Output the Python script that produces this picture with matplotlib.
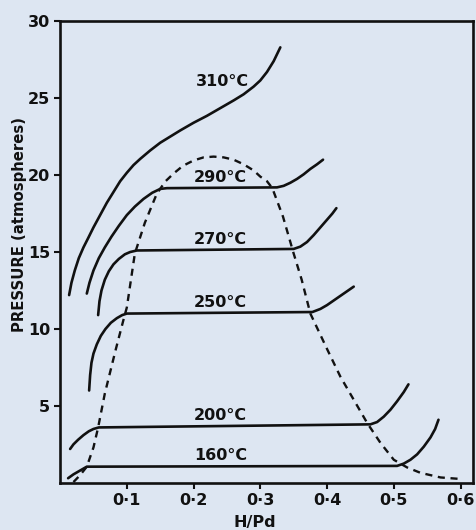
import matplotlib
matplotlib.use("Agg")
import matplotlib.pyplot as plt

# ---- data ----
x310 = [0.0135, 0.017, 0.022, 0.028, 0.035, 0.042, 0.050, 0.060, 0.070, 0.080, 0.090, 0.100, 0.110, 0.120,
        0.135, 0.150, 0.165, 0.180, 0.200, 0.220, 0.240, 0.260, 0.275, 0.290, 0.300, 0.310, 0.320, 0.330]
y310 = [12.2, 13.0, 13.8, 14.6, 15.3, 15.9, 16.6, 17.4, 18.2, 18.9, 19.6, 20.15, 20.65, 21.05,
        21.6, 22.1, 22.5, 22.9, 23.4, 23.85, 24.35, 24.85, 25.25, 25.75, 26.15, 26.7, 27.4, 28.3]

x290 = [0.040, 0.044, 0.050, 0.058, 0.067, 0.077, 0.088, 0.100, 0.112, 0.125, 0.138, 0.150, 0.160,
        0.325, 0.335, 0.345, 0.355, 0.365, 0.375, 0.385, 0.394]
y290 = [12.3, 13.0, 13.8, 14.6, 15.3, 16.0, 16.7, 17.4, 17.95, 18.45, 18.85, 19.1, 19.15,
        19.2, 19.3, 19.5, 19.75, 20.05, 20.4, 20.7, 21.0]

x270 = [0.057, 0.059, 0.062, 0.067, 0.073, 0.080, 0.088, 0.097, 0.105, 0.115,
        0.350, 0.360, 0.370, 0.380, 0.390, 0.400, 0.408, 0.414]
y270 = [10.9, 11.8, 12.5, 13.2, 13.75, 14.2, 14.55, 14.85, 15.0, 15.1,
        15.2, 15.35, 15.65, 16.1, 16.6, 17.1, 17.5, 17.85]

x250 = [0.0435, 0.045, 0.047, 0.050, 0.055, 0.061, 0.068, 0.076, 0.085, 0.093, 0.100,
        0.378, 0.390, 0.400, 0.410, 0.420, 0.430, 0.440]
y250 = [6.0, 7.0, 7.8, 8.4, 9.0, 9.55, 10.0, 10.4, 10.7, 10.9, 11.0,
        11.1, 11.3, 11.55, 11.85, 12.15, 12.45, 12.75]

x200 = [0.015, 0.020, 0.027, 0.035, 0.043, 0.050, 0.058,
        0.465, 0.475, 0.485, 0.495, 0.505, 0.515, 0.522]
y200 = [2.2, 2.5, 2.8, 3.1, 3.35, 3.5, 3.6,
        3.8, 3.95, 4.3, 4.75, 5.3, 5.9, 6.4]

x160 = [0.012, 0.020, 0.030, 0.040, 0.505, 0.515, 0.525, 0.535, 0.545, 0.555, 0.562, 0.567]
y160 = [0.3, 0.55, 0.8, 1.05, 1.1, 1.25, 1.5, 1.85, 2.35, 2.95, 3.5, 4.1]

x_dome = [0.020, 0.030, 0.040, 0.050, 0.057, 0.067, 0.083, 0.095, 0.100, 0.112, 0.127, 0.145, 0.158, 0.170,
          0.184, 0.200, 0.215, 0.230, 0.245, 0.260, 0.275, 0.290, 0.300, 0.310, 0.318, 0.334, 0.350, 0.362,
          0.375, 0.400, 0.420, 0.440, 0.460, 0.480, 0.500, 0.520, 0.540, 0.570, 0.600]
y_dome = [0.05, 0.5, 1.05, 2.3, 3.6, 5.8, 8.6, 10.6, 11.4, 14.9, 16.9, 18.8, 19.6, 20.1,
          20.6, 20.95, 21.15, 21.2, 21.15, 21.0, 20.7, 20.3, 19.9, 19.6, 19.15, 17.3, 14.9, 13.2,
          11.0, 8.7, 6.9, 5.4, 3.9, 2.6, 1.5, 1.0, 0.65, 0.35, 0.25]

labels = ["310°C", "290°C", "270°C", "250°C", "200°C", "160°C"]
label_x = [0.244, 0.24, 0.24, 0.24, 0.24, 0.24]
label_y = [26.1, 19.85, 15.8, 11.7, 4.4, 1.8]

xticks = [0.1, 0.2, 0.3, 0.4, 0.5, 0.6]
xticklabels = ["0·1", "0·2", "0·3", "0·4", "0·5", "0·6"]
yticks = [5, 10, 15, 20, 25, 30]
yticklabels = ["5", "10", "15", "20", "25", "30"]

bg = "#dde6f2"
ink = "#111111"

fig = plt.figure(figsize=(4.77, 5.30), dpi=100, facecolor=bg)
ax = fig.add_axes([0.126, 0.089, 0.866, 0.871], facecolor=bg)

for xs, ys in [(x310, y310), (x290, y290), (x270, y270), (x250, y250), (x200, y200), (x160, y160)]:
    ax.plot(xs, ys, color=ink, lw=1.9, solid_capstyle="round", solid_joinstyle="round")

ax.plot(x_dome, y_dome, color=ink, lw=1.7, linestyle=(0, (3.0, 2.4)))

for t, lx, ly in zip(labels, label_x, label_y):
    ax.text(lx, ly, t, ha="center", va="center", fontsize=11.5, color=ink, fontweight="semibold")

ax.set_xlim(0, 0.619)
ax.set_ylim(0, 30)
ax.set_xticks(xticks)
ax.set_xticklabels(xticklabels)
ax.set_yticks(yticks)
ax.set_yticklabels(yticklabels)
ax.tick_params(direction="out", length=4, width=1.5, color=ink, labelsize=11.5, labelcolor=ink, pad=3)
for lab in ax.get_xticklabels() + ax.get_yticklabels():
    lab.set_fontweight("semibold")
for s in ax.spines.values():
    s.set_linewidth(1.9)
    s.set_color(ink)

ax.set_ylabel("PRESSURE (atmospheres)", fontsize=10.7, color=ink, fontweight="semibold")
ax.yaxis.set_label_coords(-0.08, 0.56)
ax.set_xlabel("H/Pd", fontsize=11.5, color=ink, fontweight="semibold")
ax.xaxis.set_label_coords(0.472, -0.069)

fig.savefig("out.png", dpi=100, facecolor=bg)
